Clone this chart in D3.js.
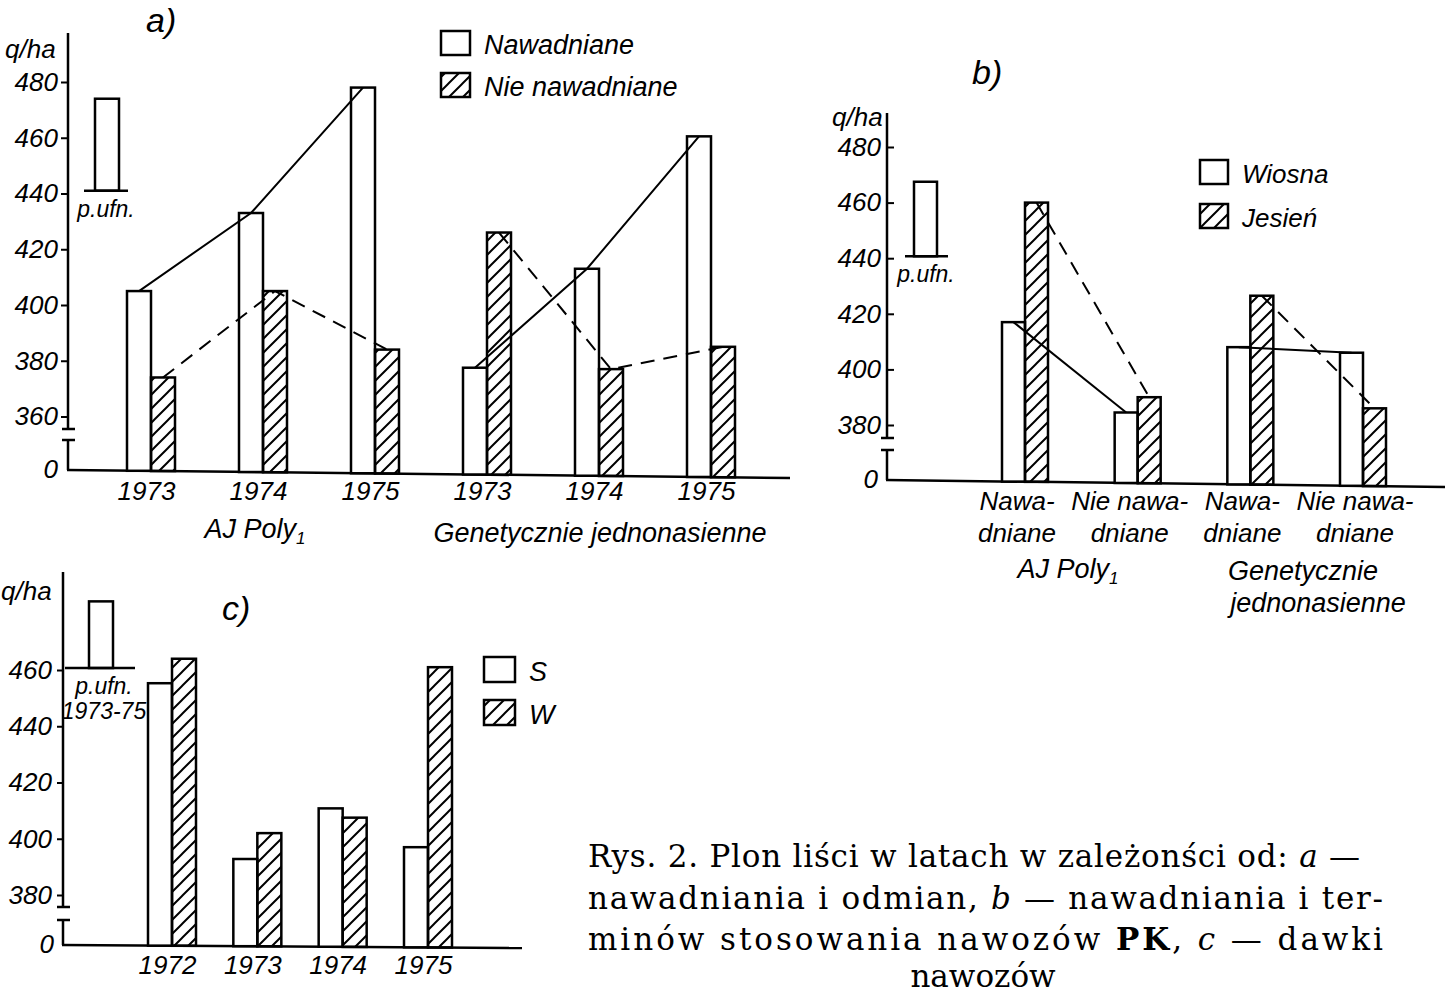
<!DOCTYPE html>
<html><head><meta charset="utf-8">
<script src="https://cdn.jsdelivr.net/npm/d3@7"></script>
<style>body{margin:0;background:#fff}svg{display:block}</style>
</head><body>
<svg id="c" width="1445" height="995"></svg>
<script>
// ---------- DATA ----------
// panel a)
const yearsA = ["1973","1974","1975","1973","1974","1975"];
const varietiesA = ["AJ Poly", "Genetycznie jednonasienne"];
const irrigatedA = [405, 433, 478, 377.5, 413, 460.5];      // Nawadniane
const nonIrrigatedA = [374, 405, 384, 426, 377, 385];       // Nie nawadniane
const ticksA = [360, 380, 400, 420, 440, 460, 480];
const lsdA = [441, 474];
const legendA = ["Nawadniane", "Nie nawadniane"];
// panel b)
const catsB = [["Nawa-","dniane"],["Nie nawa-","dniane"],["Nawa-","dniane"],["Nie nawa-","dniane"]];
const springB = [417, 384.5, 408, 406];                     // Wiosna
const autumnB = [460, 390, 426.5, 386];                     // Jesień
const ticksB = [380, 400, 420, 440, 460, 480];
const lsdB = [440.7, 467.5];
const legendB = ["Wiosna", "Jesień"];
// panel c)
const yearsC = ["1972","1973","1974","1975"];
const sC = [455.3, 392.8, 410.8, 397];
const wC = [464, 402, 407.5, 461];
const ticksC = [380, 400, 420, 440, 460];
const lsdC = [460.7, 484.4];
const legendC = ["S", "W"];
const captionLines = [
  ["Rys. 2. Plon liści w latach w zależonści od: ", ["a", "italic"], " —"],
  ["nawadniania i odmian, ", ["b", "italic"], " — nawadniania i ter-"],
  ["minów stosowania nawozów ", ["PK", "bold"], ", ", ["c", "italic"], " — dawki"],
  ["nawozów"]
];

// ---------- DRAWING ----------
const FONT = "'Liberation Sans', Arial, sans-serif";
const svg = d3.select("#c");
svg.append("rect").attr("width",1445).attr("height",995).attr("fill","#fff");
const defs = svg.append("defs");
defs.append("pattern").attr("id","hatch").attr("patternUnits","userSpaceOnUse")
  .attr("width",14).attr("height",14)
  .append("path").attr("d","M-3,3 L3,-3 M0,14 L14,0 M11,17 L17,11")
  .attr("stroke","#000").attr("stroke-width",2);

function itext(g, x, y, str, size, anchor){
  return g.append("text").attr("x",x).attr("y",y).text(str)
    .attr("font-family",FONT).attr("font-style","italic").attr("font-size",size)
    .attr("text-anchor",anchor||"start").attr("fill","#000");
}

function panel(o){
  const g = svg.append("g");
  const baseY = x => o.base0 + (x - o.axisX) * o.slope;
  const ax = d3.axisLeft(o.y).tickValues(o.ticks).tickSize(o.tickSize).tickPadding(o.tickPad);
  const ag = g.append("g").attr("transform",`translate(${o.axisX},0)`).call(ax);
  ag.select(".domain").remove();
  ag.selectAll("line").attr("stroke","#000").attr("stroke-width",2);
  ag.selectAll("text").attr("font-family",FONT).attr("font-style","italic")
    .attr("font-size",26).attr("fill","#000");
  const X = o.axisX;
  g.append("path").attr("fill","none").attr("stroke","#000").attr("stroke-width",2.5)
    .attr("d",`M${X},${o.top}V${o.brk1}M${X-6},${o.brk1}H${X+7}M${X-6},${o.brk2}H${X+7}M${X},${o.brk2}V${baseY(X)}`);
  itext(g, X - o.zeroOff, baseY(X), "0", 26, "end").attr("dy","0.32em");
  itext(g, o.unitX, o.unitY, "q/ha", 26);
  g.append("line").attr("x1",X-1).attr("y1",baseY(X)).attr("x2",o.baseEnd).attr("y2",baseY(o.baseEnd))
    .attr("stroke","#000").attr("stroke-width",2.5);
  const bars = [];
  o.series.forEach((vals, si) => vals.forEach((v, i) => {
    const cx = o.x(i);
    const x0 = si === 0 ? cx - o.barW : cx;
    bars.push({si, i, v, x0, xc: x0 + o.barW/2});
  }));
  g.selectAll("rect.bar").data(bars).join("rect").attr("class","bar")
    .attr("x", d => d.x0).attr("y", d => o.y(d.v))
    .attr("width", o.barW).attr("height", d => baseY(d.xc) - o.y(d.v))
    .attr("fill", d => d.si === 0 ? "#fff" : "url(#hatch)")
    .attr("stroke","#000").attr("stroke-width",2.5);
  if (o.groups){
    const line = d3.line().x(d => d.xc).y(d => o.y(d.v));
    o.groups.forEach(grp => {
      [0,1].forEach(si => {
        const pts = bars.filter(b => b.si === si && grp.includes(b.i));
        g.append("path").attr("d", line(pts)).attr("fill","none").attr("stroke","#000")
          .attr("stroke-width",2).attr("stroke-dasharray", si === 1 ? "14,9" : null);
      });
    });
  }
  g.append("rect").attr("x",o.lsdX).attr("y",o.y(o.lsd[1])).attr("width",o.barW)
    .attr("height",o.y(o.lsd[0]) - o.y(o.lsd[1])).attr("fill","#fff")
    .attr("stroke","#000").attr("stroke-width",2.5);
  g.append("line").attr("x1",o.lsdL[0]).attr("x2",o.lsdL[1])
    .attr("y1",o.y(o.lsd[0])).attr("y2",o.y(o.lsd[0])).attr("stroke","#000").attr("stroke-width",2.5);
  o.lsdText.forEach((t, k) => itext(g, o.lsdTX, o.y(o.lsd[0]) + 26 + k*25, t, 23, "middle"));
  o.legend.forEach((t, k) => {
    const ly = o.legY + k * o.legDy;
    g.append("rect").attr("x",o.legX).attr("y",ly).attr("width",o.legW).attr("height",o.legH)
      .attr("fill", k === 0 ? "#fff" : "url(#hatch)").attr("stroke","#000").attr("stroke-width",2.5);
    itext(g, o.legX + o.legW + 14, ly + o.legH - 1, t, o.legFont);
  });
  itext(g, o.titleX, o.titleY, o.title, 34);
  return {g, baseY};
}

// ---- panel a
const xA = d3.scalePoint().domain(d3.range(yearsA.length)).range([151, 711]);
const yA = d3.scaleLinear().domain([360, 480]).range([416.5, 82]);
panel({axisX:68, top:33, brk1:429, brk2:440, base0:470, slope:8/725, baseEnd:790,
  y:yA, ticks:ticksA, tickSize:7, tickPad:3, zeroOff:10, unitX:5, unitY:58,
  x:xA, barW:24, series:[irrigatedA, nonIrrigatedA], groups:[[0,1,2],[3,4,5]],
  lsd:lsdA, lsdX:95, lsdL:[84,128], lsdText:["p.ufn."], lsdTX:106,
  legend:legendA, legX:441, legY:31, legDy:42, legW:29, legH:24, legFont:27,
  title:"a)", titleX:146, titleY:32});
const axA = d3.axisBottom(xA).tickSize(0).tickPadding(0).tickFormat(i => yearsA[i]);
const gA = svg.append("g").attr("transform","translate(-5,482)").call(axA);
gA.select(".domain").remove();
gA.selectAll("text").attr("font-family",FONT).attr("font-style","italic").attr("font-size",26)
  .attr("fill","#000").attr("dy","0.71em");
{
  const t = itext(svg, 255, 538, varietiesA[0], 27, "middle");
  t.append("tspan").attr("font-size",17).attr("dy",6).text("1");
  itext(svg, 600, 542, varietiesA[1], 27, "middle");
}

// ---- panel b
const xB = d3.scalePoint().domain(d3.range(catsB.length)).range([1025, 1363]);
const yB = d3.scaleLinear().domain([380, 480]).range([425, 147]);
panel({axisX:887, top:113, brk1:438, brk2:450, base0:480, slope:7/560, baseEnd:1445,
  y:yB, ticks:ticksB, tickSize:-7, tickPad:6, zeroOff:9, unitX:832, unitY:126,
  x:xB, barW:23, series:[springB, autumnB], groups:[[0,1],[2,3]],
  lsd:lsdB, lsdX:914, lsdL:[905,948], lsdText:["p.ufn."], lsdTX:926,
  legend:legendB, legX:1200, legY:160, legDy:44, legW:28, legH:24, legFont:26,
  title:"b)", titleX:972, titleY:84});
catsB.forEach((c, i) => {
  itext(svg, xB(i) - 8, 510, c[0], 26, "middle");
  itext(svg, xB(i) - 8, 542, c[1], 26, "middle");
});
{
  const t = itext(svg, 1068, 578, varietiesA[0], 27, "middle");
  t.append("tspan").attr("font-size",17).attr("dy",6).text("1");
  itext(svg, 1303, 580, "Genetycznie", 27, "middle");
  itext(svg, 1318, 612, "jednonasienne", 27, "middle");
}

// ---- panel c
const xC = d3.scalePoint().domain(d3.range(yearsC.length)).range([172, 428]);
const yC = d3.scaleLinear().domain([380, 460]).range([895, 670]);
panel({axisX:63, top:572, brk1:907, brk2:920, base0:945, slope:3/460, baseEnd:522,
  y:yC, ticks:ticksC, tickSize:6, tickPad:5, zeroOff:9, unitX:1, unitY:600,
  x:xC, barW:24, series:[sC, wC], groups:null,
  lsd:lsdC, lsdX:89, lsdL:[65,135], lsdText:["p.ufn.","1973-75"], lsdTX:104,
  legend:legendC, legX:484, legY:657, legDy:43, legW:31, legH:25, legFont:27,
  title:"c)", titleX:222, titleY:620});
const axC = d3.axisBottom(xC).tickSize(0).tickPadding(0).tickFormat(i => yearsC[i]);
const gC = svg.append("g").attr("transform","translate(-5,956)").call(axC);
gC.select(".domain").remove();
gC.selectAll("text").attr("font-family",FONT).attr("font-style","italic").attr("font-size",26)
  .attr("fill","#000").attr("dy","0.71em");

// ---- caption
const capY = [867, 909, 950, 987];
const capLen = [772, 795, 795, null];
captionLines.forEach((parts, k) => {
  const t = svg.append("text").attr("y", capY[k])
    .attr("font-family","'DejaVu Serif', 'Liberation Serif', serif").attr("font-size",31).attr("fill","#000");
  if (capLen[k]) t.attr("x",588).attr("textLength",capLen[k]).attr("lengthAdjust","spacing");
  else t.attr("x",983).attr("text-anchor","middle");
  parts.forEach(p => {
    if (typeof p === "string") t.append("tspan").text(p);
    else {
      const s = t.append("tspan").text(p[0]);
      if (p[1] === "italic") s.attr("font-style","italic");
      if (p[1] === "bold") s.attr("font-weight","bold");
    }
  });
});
</script>
</body></html>
